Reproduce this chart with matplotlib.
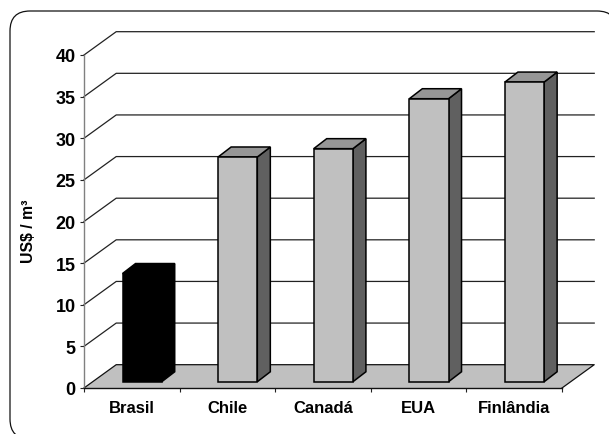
import matplotlib
matplotlib.use('Agg')
import matplotlib.pyplot as plt
from matplotlib.patches import FancyBboxPatch, Polygon

categories = ['Brasil', 'Chile', 'Canadá', 'EUA', 'Finlândia']
values = [13, 27, 28, 34, 36]
y_ticks = [0, 5, 10, 15, 20, 25, 30, 35, 40]

W, H = 609, 435

plt.rcParams['font.family'] = ['Liberation Sans', 'DejaVu Sans']
plt.rcParams['font.weight'] = 'bold'

fig = plt.figure(figsize=(W / 100, H / 100), dpi=100)

# rounded frame runs off the right and bottom of the image
frame = FancyBboxPatch((10 + 20, H - 440 + 20), 587 - 40 + 20, 428 - 40,
                       boxstyle='round,pad=20,rounding_size=20',
                       transform=None, fc='white', ec='#111111', lw=0.9, zorder=0)
fig.add_artist(frame)

ax = fig.add_axes([84 / W, (H - 389) / H, (562 - 84) / W, (389 - 56) / H])
ax.patch.set_alpha(0)
ax.set_xlim(-0.5, 4.5)
ax.set_ylim(0, 40)

# depth of the fake 3d box, in data units
dx, dy = 0.337, 2.8
# bar position inside that depth
bar_w = 0.41
off_x, off_y = 0.108, 0.75
bar_dx, bar_dy = 0.136, 1.2

left, right = -0.5, 4.5

# floor
ax.add_patch(Polygon([(left, 0), (right, 0), (right + dx, dy), (left + dx, dy)],
                     closed=True, fc='#c0c0c0', ec='none', clip_on=False, zorder=1))
ax.plot([left, left + dx, right + dx, right], [0, dy, dy, 0], color='#111111',
        lw=0.9, clip_on=False, zorder=1.5)

# wall grid lines
for t in y_ticks[1:]:
    ax.plot([left, left + dx, right + dx], [t, t + dy, t + dy],
            color='#222222', lw=0.9, clip_on=False, zorder=1.2)

for i, v in enumerate(values):
    x0 = i - bar_w / 2 + off_x
    x1 = i + bar_w / 2 + off_x
    y0 = off_y
    y1 = off_y + v
    is_brasil = categories[i] == 'Brasil'
    front = 'black' if is_brasil else '#c0c0c0'
    top = 'black' if is_brasil else '#969696'
    side = 'black' if is_brasil else '#606060'
    ax.add_patch(Polygon([(x1, y0), (x1 + bar_dx, y0 + bar_dy), (x1 + bar_dx, y1 + bar_dy), (x1, y1)],
                         closed=True, fc=side, ec='black', lw=1.1, clip_on=False, zorder=3))
    ax.add_patch(Polygon([(x0, y1), (x1, y1), (x1 + bar_dx, y1 + bar_dy), (x0 + bar_dx, y1 + bar_dy)],
                         closed=True, fc=top, ec='black', lw=1.1, clip_on=False, zorder=3))
    ax.add_patch(Polygon([(x0, y0), (x1, y0), (x1, y1), (x0, y1)],
                         closed=True, fc=front, ec='black', lw=1.1, clip_on=False, zorder=4))

ax.spines['top'].set_visible(False)
ax.spines['right'].set_visible(False)
ax.spines['left'].set_color('#808080')
ax.spines['left'].set_linewidth(1.0)
ax.spines['bottom'].set_color('#111111')
ax.spines['bottom'].set_linewidth(1.0)

ax.set_yticks(y_ticks)
ax.tick_params(axis='y', length=3, width=0.8, color='#222222', pad=3, labelsize=13)

# ticks between categories, labels centred on each category
ax.set_xticks([-0.5, 0.5, 1.5, 2.5, 3.5, 4.5])
ax.set_xticklabels([])
ax.tick_params(axis='x', length=3, width=0.8, color='#222222')
ax.set_xticks(range(len(categories)), minor=True)
ax.set_xticklabels(categories, minor=True, fontsize=12, fontweight='bold')
ax.tick_params(axis='x', which='minor', length=0, pad=8.5)

for lab in ax.get_yticklabels():
    lab.set_fontweight('bold')

fig.text(28.5 / W, (H - 231) / H, 'US$ / m³', rotation=90, ha='center', va='center',
         fontsize=11.3, fontweight='bold')

fig.savefig('out.png', dpi=100)
